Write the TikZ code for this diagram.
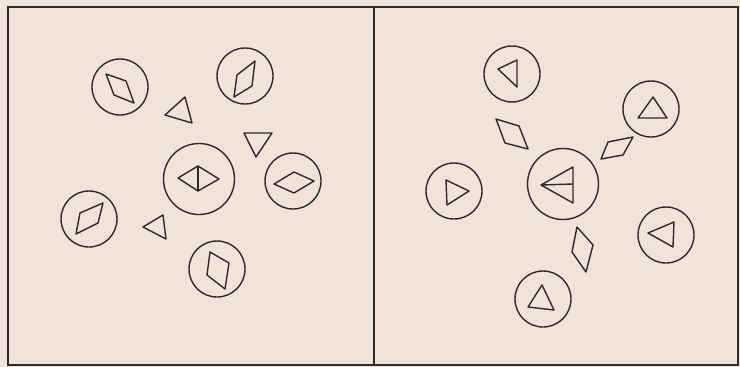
\documentclass[tikz,border=0pt]{standalone}
\definecolor{paper}{RGB}{240,228,218}
\definecolor{ink}{RGB}{50,40,37}
\tikzset{
  ring/.style={circle, draw=ink, line width=1.4pt, inner sep=0pt, minimum size=56pt},
  bigring/.style={ring, minimum size=71pt},
  figline/.style={draw=ink, line width=1.4pt, line join=round},
  frameline/.style={draw=ink, line width=1.9pt}
}
\begin{document}
\begin{tikzpicture}[x=1pt, y=-1pt]
  \fill[paper] (0,0) rectangle (740,367);
  \useasboundingbox (0,0) rectangle (740,367);

  % Frame
  \draw[frameline] (8,7) rectangle (738,365);
  \draw[frameline] (374,7) -- (374,365);

  % Left panel: rhombi in rings
  \node[ring] (l1) at (120,87) {};
  \draw[figline] (106,74) -- (126,81) -- (134,103) -- (114,95) -- cycle;
  \node[ring] (l2) at (245,76) {};
  \draw[figline] (255,61) -- (252,86) -- (234,97) -- (237,75) -- cycle;
  \node[bigring] (l3) at (199,179) {};
  \draw[figline] (178,178) -- (198,166) -- (219,179) -- (198,191) -- cycle;
  \draw[figline] (198,166) -- (198,191);
  \node[ring] (l4) at (293,181) {};
  \draw[figline] (274,184) -- (294,172) -- (314,181) -- (294,193) -- cycle;
  \node[ring] (l5) at (89,219) {};
  \draw[figline] (103,203) -- (98,223) -- (76,234) -- (80,213) -- cycle;
  \node[ring] (l6) at (217,269) {};
  \draw[figline] (210,252) -- (229,263) -- (225,289) -- (207,275) -- cycle;

  % Left panel: free triangles
  \draw[figline] (185,97) -- (165,115) -- (192,123) -- cycle;
  \draw[figline] (244,133) -- (272,133) -- (256,157) -- cycle;
  \draw[figline] (163,215) -- (143,227) -- (166,239) -- cycle;

  % Right panel: triangles in rings
  \node[ring] (r1) at (512,74) {};
  \draw[figline] (517,60) -- (498,69) -- (517,87) -- cycle;
  \node[ring] (r2) at (651,109) {};
  \draw[figline] (653,97) -- (638,118) -- (667,118) -- cycle;
  \node[ring] (r3) at (454,191) {};
  \draw[figline] (446,180) -- (469,191) -- (447,205) -- cycle;
  \node[bigring] (r4) at (563,184) {};
  \draw[figline] (541,185) -- (573,167) -- (573,203) -- cycle;
  \draw[figline] (541,185) -- (573,184);
  \node[ring] (r5) at (666,235) {};
  \draw[figline] (674,222) -- (648,233) -- (673,247) -- cycle;
  \node[ring] (r6) at (543,299) {};
  \draw[figline] (542,285) -- (528,307) -- (554,310) -- cycle;

  % Right panel: free rhombi
  \draw[figline] (496,119) -- (519,126) -- (528,149) -- (505,143) -- cycle;
  \draw[figline] (608,142) -- (633,137) -- (623,155) -- (601,159) -- cycle;
  \draw[figline] (577,227) -- (593,245) -- (586,272) -- (572,252) -- cycle;
\end{tikzpicture}
\end{document}
